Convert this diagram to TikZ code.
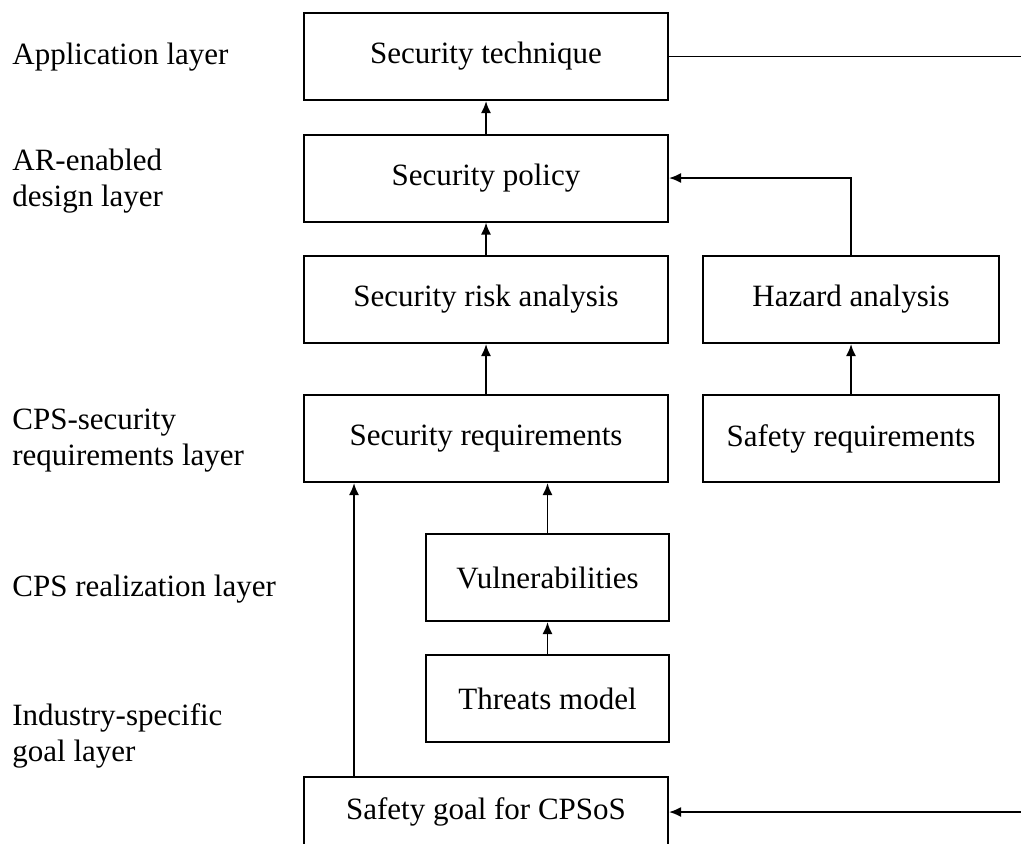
\documentclass[tikz,border=0pt]{standalone}
\usepackage{fontspec}
\setmainfont{Liberation Serif}
\usetikzlibrary{positioning, arrows.meta}
\tikzstyle{block} = [draw, line width=1pt, inner sep=0pt, minimum width=182pt, minimum height=43.5pt, font=\fontsize{15.5}{18}\selectfont]
\tikzstyle{layer} = [anchor=west, align=left, inner sep=0pt, font=\fontsize{15.5}{18}\selectfont]
\tikzstyle{arrow} = [line width=0.9pt, -{Latex[length=6pt,width=5pt]}]

\begin{document}
\begin{tikzpicture}[x=0.5pt, y=-0.5pt]
                \useasboundingbox (0,0) rectangle (1021,843);

                % Layer names
                \node[layer] (lapp) at (12,57) {Application layer};
                \node[layer] (lar) at (12,181) {AR-enabled\\design layer};
                \node[layer] (lcps) at (12,441) {CPS-security\\requirements layer};
                \node[layer] (lreal) at (12,589) {CPS realization layer};
                \node[layer] (lind) at (12,736) {Industry-specific\\goal layer};

                % Blocks
                \node[block] (tech) at (486,56.5) {Security technique};
                \node[block] (policy) at (486,178) {Security policy};
                \node[block] (risk) at (486,299.5) {Security risk analysis};
                \node[block, minimum width=148pt] (hazard) at (851,299.5) {Hazard analysis};
                \node[block] (secreq) at (486,438.5) {Security requirements};
                \node[block, minimum width=148pt] (safereq) at (851,438.5) {Safety requirements};
                \node[block, minimum width=121.5pt] (vuln) at (547.5,577.5) {Vulnerabilities};
                \node[block, minimum width=121.5pt] (threat) at (547.5,698.5) {Threats model};
                \node[block, minimum height=35pt] (goal) at (486,812) {Safety goal for CPSoS};

                % Free ends at the right edge
                \coordinate (outtop) at (1024,56.5);
                \coordinate (outbot) at (1024,812);

                % Connectors
                \draw[arrow] (policy) -- (tech);
                \draw[arrow] (risk) -- (policy);
                \draw[arrow] (secreq) -- (risk);
                \draw[arrow] (safereq) -- (hazard);
                \draw[arrow] (hazard.north) |- (policy.east);
                \draw[arrow] (vuln.north) -- (vuln.north |- secreq.south);
                \draw[arrow] (threat) -- (vuln);
                \draw[arrow] ([xshift=25.5pt]goal.north west) -- ([xshift=25.5pt]secreq.south west);
                \draw[line width=0.9pt] (tech.east) -- (outtop);
                \draw[arrow] (outbot) -- (goal.east);
            \end{tikzpicture}
\end{document}
